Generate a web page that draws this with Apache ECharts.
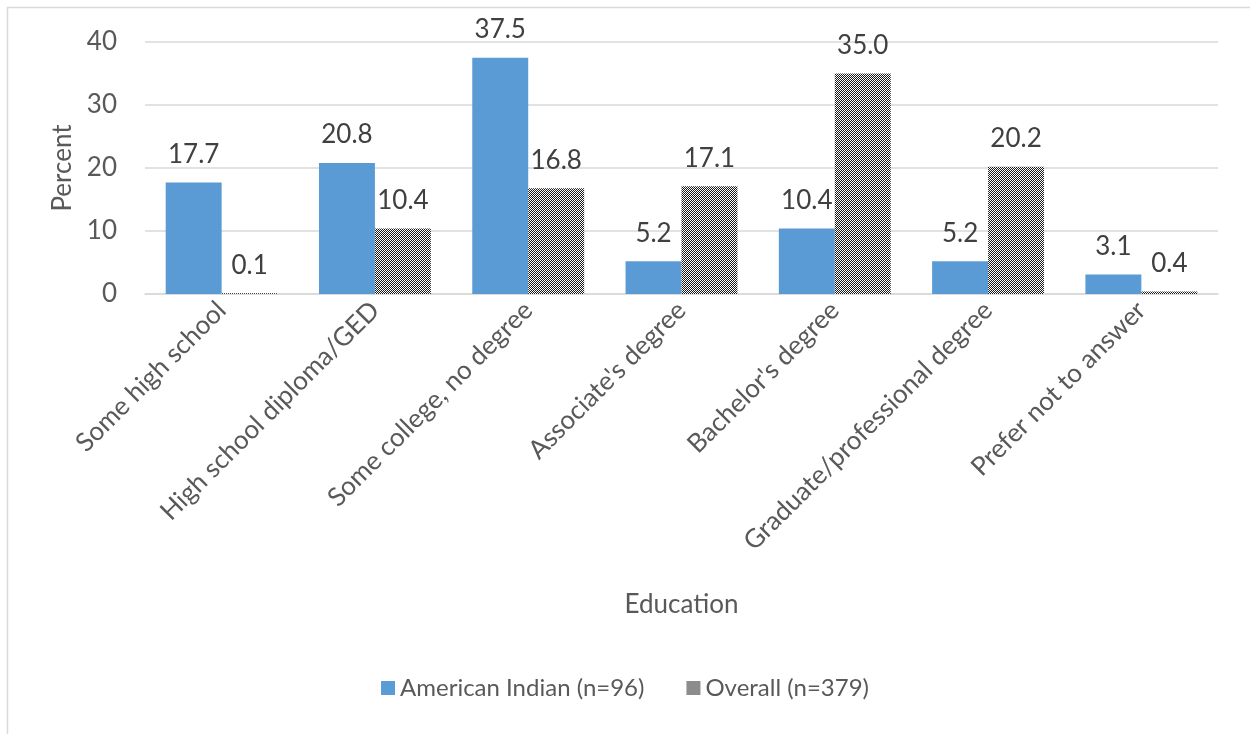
<!DOCTYPE html>
<html><head><meta charset="utf-8">
<script src="https://cdn.jsdelivr.net/npm/echarts@6/dist/echarts.min.js"></script>
<style>html,body{margin:0;padding:0;background:#fff}#c{width:1250px;height:734px}</style>
</head><body><div id="c"></div>
<script>
const categories = ["Some high school","High school diploma/GED","Some college, no degree","Associate's degree","Bachelor's degree","Graduate/professional degree","Prefer not to answer"];
const americanIndian = [17.7, 20.8, 37.5, 5.2, 10.4, 5.2, 3.1];
const overall = [0.1, 10.4, 16.8, 17.1, 35.0, 20.2, 0.4];
const yTicks = [0, 10, 20, 30, 40];

const pc = document.createElement('canvas');
pc.width = 4; pc.height = 4;
const g = pc.getContext('2d');
g.fillStyle = '#ffffff'; g.fillRect(0,0,4,4);
g.fillStyle = '#1a1a1a';
for (let i = 0; i < 4; i++) { g.fillRect(i, 3 - i, 1, 1); g.fillRect(i, (3 - i + 2) % 4, 1, 1); }
const pattern = { image: pc, repeat: 'repeat' };

const font = "Lato, 'Open Sans', sans-serif";
const FS = 26;
const chart = echarts.init(document.getElementById('c'));
chart.setOption({
  animation: false,
  textStyle: { fontFamily: font },
  graphic: [{ type: 'rect', shape: { x: 7.5, y: 7.5, width: 1300, height: 800 }, style: { fill: 'none', stroke: '#d9d9d9', lineWidth: 1.5 }, silent: true }],
  grid: { left: 145, right: 32, top: 42, bottom: 440 },
  legend: {
    bottom: 29, left: 'center', itemWidth: 14, itemHeight: 14, itemGap: 42,
    textStyle: { fontSize: 24, color: '#595959', fontFamily: font },
    data: [{ name: 'American Indian (n=96)', icon: 'rect' }, { name: 'Overall (n=379)', icon: 'rect', itemStyle: { color: pattern } }]
  },
  xAxis: {
    type: 'category', data: categories,
    name: 'Education', nameLocation: 'middle', nameGap: 298,
    nameTextStyle: { fontSize: FS, color: '#595959' },
    axisLine: { lineStyle: { color: '#d9d9d9', width: 1.5 } },
    axisTick: { show: false },
    axisLabel: { rotate: 45, interval: 0, fontSize: FS, color: '#595959', margin: 12 }
  },
  yAxis: {
    type: 'value', min: 0, max: 40, interval: 10,
    name: 'Percent', nameLocation: 'middle', nameGap: 66, nameRotate: 90,
    nameTextStyle: { fontSize: FS, color: '#595959' },
    axisLine: { show: false }, axisTick: { show: false },
    axisLabel: { fontSize: FS, color: '#595959', margin: 28, formatter: v => yTicks.includes(v) ? String(v) : '' },
    splitLine: { lineStyle: { color: '#d9d9d9', width: 1.5 } }
  },
  series: [
    { name: 'American Indian (n=96)', type: 'bar', data: americanIndian, barGap: '0%', barCategoryGap: '27%',
      itemStyle: { color: '#5b9bd5' },
      label: { show: true, position: 'top', distance: 15, fontSize: FS, color: '#404040', formatter: p => p.value.toFixed(1) } },
    { name: 'Overall (n=379)', type: 'bar', data: overall,
      itemStyle: { color: pattern },
      label: { show: true, position: 'top', distance: 15, fontSize: FS, color: '#404040', formatter: p => p.value.toFixed(1) } }
  ]
});
</script></body></html>
